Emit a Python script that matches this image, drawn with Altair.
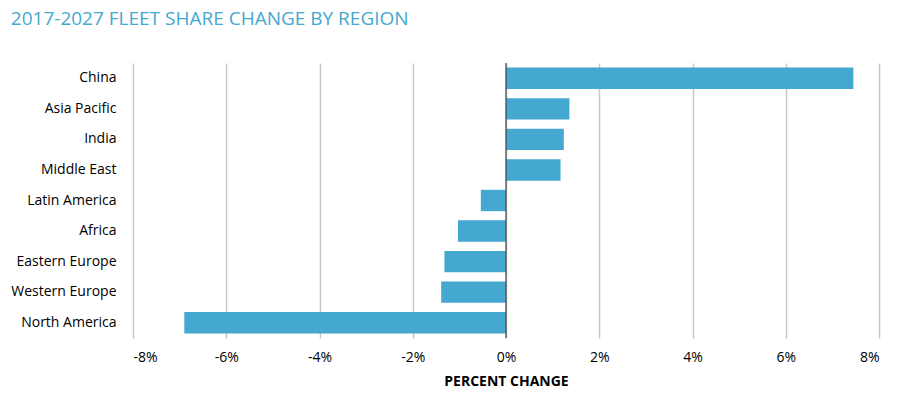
import altair as alt
import pandas as pd

regions = ["China", "Asia Pacific", "India", "Middle East", "Latin America",
           "Africa", "Eastern Europe", "Western Europe", "North America"]
changes = [7.45, 1.36, 1.24, 1.17, -0.54, -1.03, -1.32, -1.39, -6.9]
x_ticks = [-8, -6, -4, -2, 0, 2, 4, 6, 8]

df = pd.DataFrame({"region": regions, "change": changes})
zero = pd.DataFrame({"x": [0]})

FONT = "Open Sans"
BLUE = "#45a8d0"

bars = alt.Chart(df).mark_bar(color=BLUE).encode(
    x=alt.X("change:Q",
            scale=alt.Scale(domain=[-8, 8], nice=False, zero=False),
            axis=alt.Axis(values=x_ticks, labelExpr="datum.value + '%'",
                          title="PERCENT CHANGE", titleFontWeight="bold",
                          titleFont=FONT, titleFontSize=14, titleColor="#000000",
                          titlePadding=10,
                          labelFont=FONT, labelFontSize=14, labelColor="#000000",
                          labelPadding=12, ticks=False, domain=False,
                          grid=True, gridColor="#c8c8c8", gridWidth=1.5)),
    y=alt.Y("region:N", sort=regions,
            scale=alt.Scale(paddingInner=0.3, paddingOuter=0.15),
            axis=alt.Axis(title=None, labelFont=FONT, labelFontSize=14,
                          labelColor="#000000", labelPadding=17,
                          ticks=False, domain=False, grid=False)),
)

rule = alt.Chart(zero).mark_rule(color="#444444", strokeWidth=1.2).encode(
    x=alt.X("x:Q")
)

chart = alt.layer(bars, rule).properties(
    width=746,
    height=275,
    padding={"left": 2, "top": 2, "right": 5, "bottom": 0},
    title=alt.TitleParams(
        "2017-2027 FLEET SHARE CHANGE BY REGION",
        anchor="start", frame="bounds", font=FONT, fontSize=19,
        fontWeight="normal", color=BLUE, offset=33,
    ),
).configure_view(stroke=None)

chart.save("out.html", embed_options={"renderer": "svg", "actions": False})
